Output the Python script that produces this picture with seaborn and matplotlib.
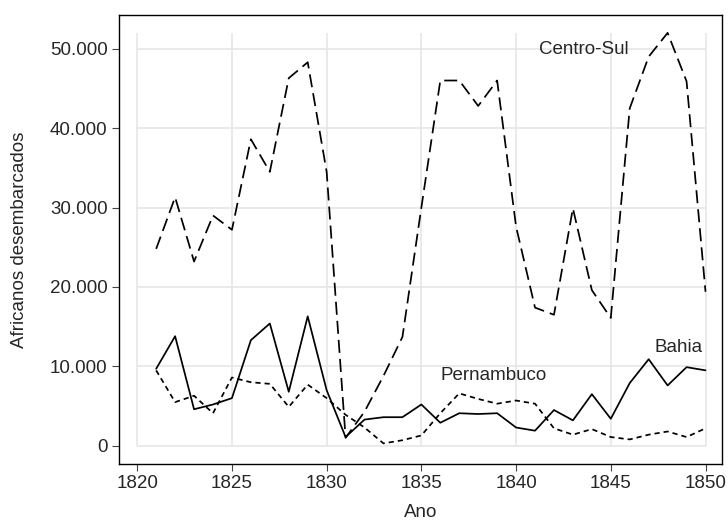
import numpy as np
import pandas as pd
import matplotlib
matplotlib.use("Agg")
import matplotlib.pyplot as plt
import seaborn as sns
from matplotlib.ticker import FuncFormatter

# Africanos desembarcados por região, 1821-1850
anos = list(range(1821, 1851))
centro_sul = [24800, 31300, 23200, 29000, 27200, 38600, 34500, 46300, 48300, 34500,
              1000, 4300, 8800, 13700, 30000, 46000, 46000, 42800, 46000, 27600,
              17400, 16500, 29900, 19600, 16100, 42500, 49000, 52000, 45900, 19400]
bahia = [9700, 13800, 4600, 5200, 6000, 13300, 15400, 6800, 16300, 7000,
         1100, 3300, 3600, 3600, 5200, 2900, 4100, 4000, 4100, 2300,
         1900, 4500, 3200, 6500, 3400, 7900, 10900, 7600, 9900, 9500]
pernambuco = [9500, 5500, 6300, 4100, 8600, 8000, 7800, 4900, 7700, 6000,
              3900, 2300, 300, 700, 1300, 4100, 6600, 5900, 5300, 5700,
              5300, 2200, 1400, 2100, 1100, 800, 1400, 1800, 1100, 2200]

x_ticks = [1820, 1825, 1830, 1835, 1840, 1845, 1850]
y_ticks = [0, 10000, 20000, 30000, 40000, 50000]

df = pd.DataFrame({
    "Ano": anos * 3,
    "valor": centro_sul + bahia + pernambuco,
    "regiao": ["Centro-Sul"] * len(anos) + ["Bahia"] * len(anos) + ["Pernambuco"] * len(anos),
})

sns.set_style("white")
plt.rcParams["font.family"] = ["Liberation Sans", "DejaVu Sans"]

fig = plt.figure(figsize=(7.28, 5.2), dpi=100)
ax = fig.add_axes([0.163, 0.107, 0.829, 0.864])

# grade só dentro do intervalo dos dados
ymax = max(centro_sul)
for yt in y_ticks:
    ax.hlines(yt, x_ticks[0], x_ticks[-1], color="#e6e6e6", lw=1.2, zorder=0)
for xt in x_ticks:
    ax.vlines(xt, 0, ymax, color="#e6e6e6", lw=1.2, zorder=0)

sns.lineplot(data=df, x="Ano", y="valor", style="regiao", color="black",
             dashes={"Centro-Sul": (7.5, 3.5), "Bahia": "", "Pernambuco": (3, 2.3)},
             linewidth=1.25, legend=False, ax=ax)

fs = 13.5
ax.text(1843.6, 49900, "Centro-Sul", fontsize=fs, ha="center", va="center")
ax.text(1838.8, 8800, "Pernambuco", fontsize=fs, ha="center", va="center")
ax.text(1848.6, 12400, "Bahia", fontsize=fs, ha="center", va="center")

ax.set_xlim(1819.02, 1850.88)
ax.set_ylim(-2340, 54240)
ax.set_xticks(x_ticks)
ax.set_yticks(y_ticks)
ax.yaxis.set_major_formatter(FuncFormatter(lambda v, p: f"{int(v):,}".replace(",", ".")))
ax.tick_params(axis="both", direction="out", length=5, width=0.8, color="#444444",
               labelsize=fs, bottom=True, left=True, pad=3)
ax.set_xlabel("Ano", fontsize=fs, labelpad=8)
ax.set_ylabel("Africanos desembarcados", fontsize=fs, labelpad=16)
for s in ax.spines.values():
    s.set_color("black")
    s.set_linewidth(1.0)

fig.savefig("out.png", dpi=100)
